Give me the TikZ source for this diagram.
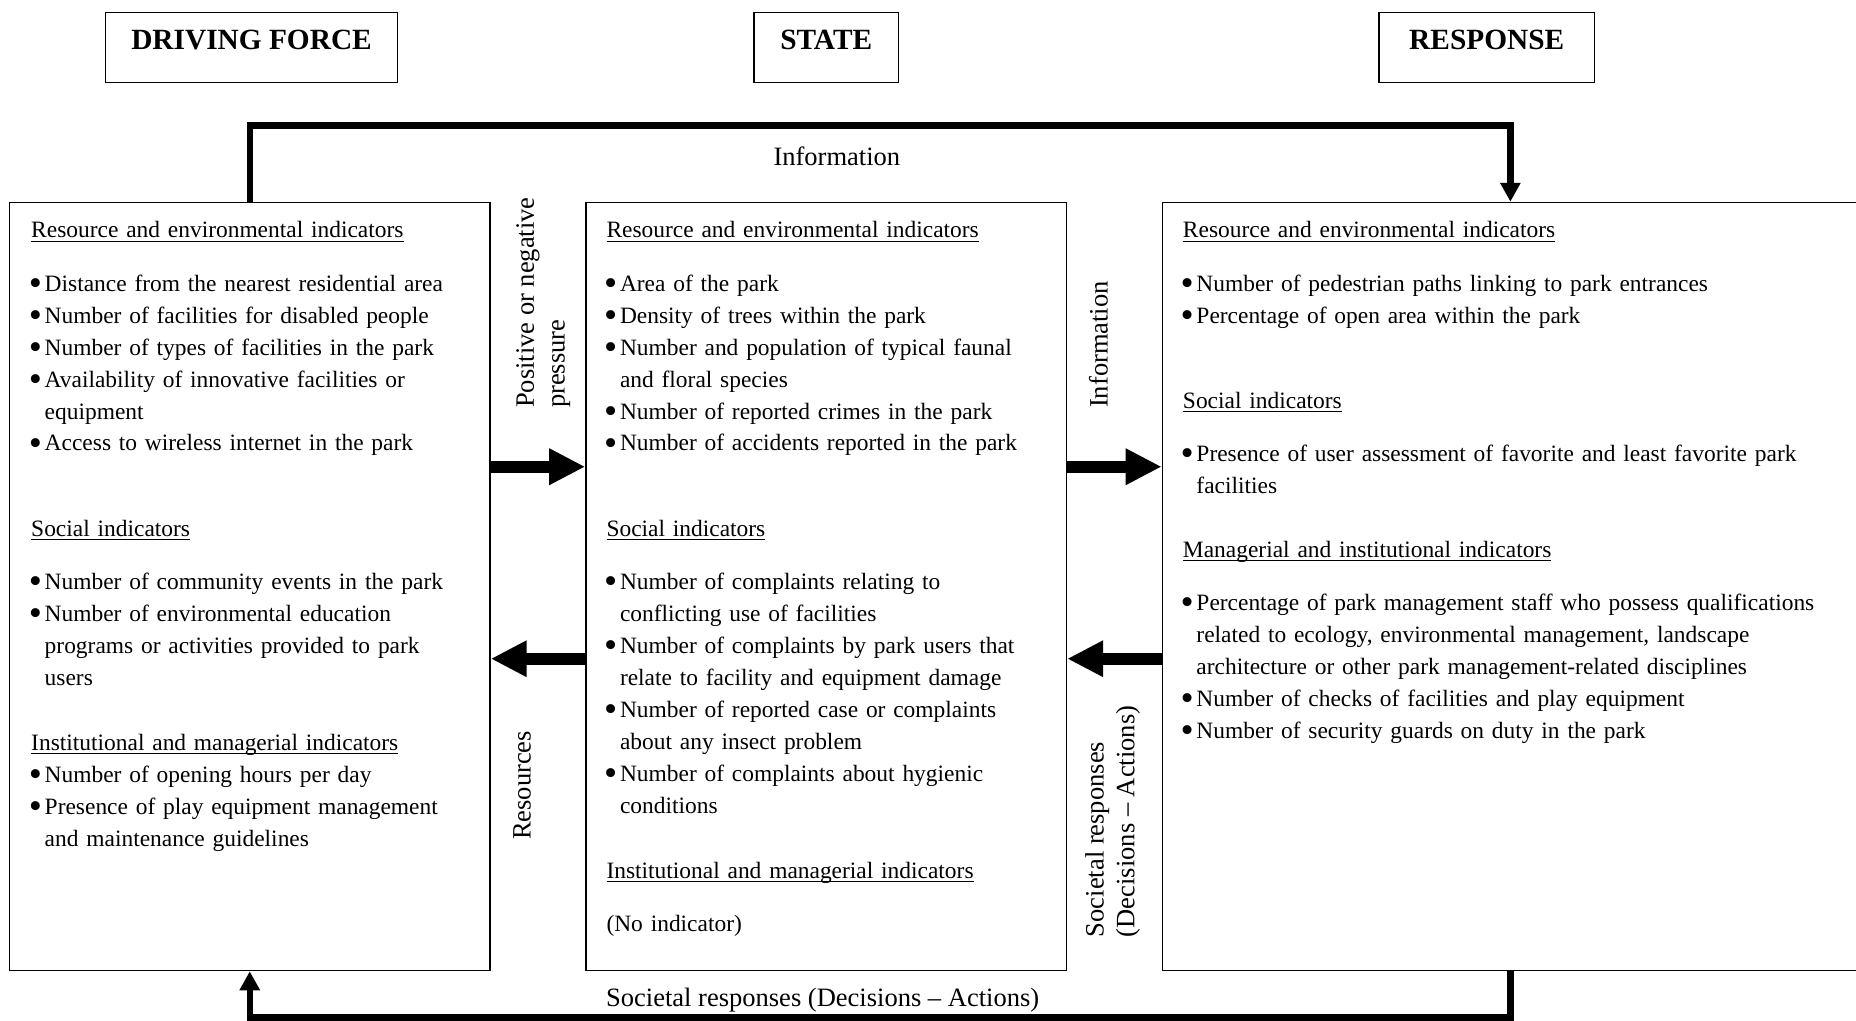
\documentclass[tikz,border=0pt]{standalone}
\usepackage{graphicx}
\usepackage{fontspec}
\setmainfont{Liberation Serif}
\usetikzlibrary{arrows.meta}

\newcommand\bodyfont{\fontsize{9.9pt}{13.5pt}\selectfont}
\newcommand\bul{\makebox[5.7pt][l]{\hspace*{-1pt}\raisebox{-1.7pt}{\scalebox{1.6}{\textbullet}}}}
\newcommand\cont{\hspace*{5.7pt}}
\newcommand\hdline[1]{\setbox0\hbox{#1}\rlap{\rule[-1.6pt]{\wd0}{0.5pt}}\box0}

\begin{document}
\begin{tikzpicture}[x=0.5pt, y=-0.5pt,
    panel/.style={draw, line width=0.6pt, inner sep=0pt, minimum height=324.5pt},
    titlebox/.style={draw, line width=0.6pt, inner sep=0pt, anchor=north,
      font=\bfseries\fontsize{12.4pt}{15pt}\selectfont, text height=15.5pt, text depth=14pt},
    items/.style={anchor=base west, inner sep=0pt, text width=300pt, align=left, font=\bodyfont},
    linklabel/.style={inner sep=0pt, font=\fontsize{11.2pt}{13pt}\selectfont},
    bigarrow/.style={line width=5pt, -{Triangle[length=15.2pt, width=14.4pt]}},
    backline/.style={line width=2.7pt, -{Triangle[length=8pt, width=8.2pt]}}]
  \useasboundingbox (0,0) rectangle (1568,862);

  % headers
  \node[titlebox, minimum width=123.5pt] (dfhead) at (212.5,10) {DRIVING FORCE};
  \node[titlebox, minimum width=61pt] (shead) at (698,10) {STATE};
  \node[titlebox, minimum width=91pt] (rhead) at (1256,10) {RESPONSE};

  % main boxes
  \node[panel, minimum width=203pt] (dfbox) at (211,495.5) {};
  \node[panel, minimum width=203pt] (sbox) at (698,495.5) {};
  \node[panel, minimum width=294pt] (rbox) at (1276,495.5) {};

  % driving force
  \node[items] (dfres) at (26,201) {\hdline{Resource and environmental indicators}\\[9pt]
    \bul Distance from the nearest residential area\\
    \bul Number of facilities for disabled people\\
    \bul Number of types of facilities in the park\\
    \bul Availability of innovative facilities or\\
    \cont equipment\\
    \bul Access to wireless internet in the park};
  \node[items] (dfsoc) at (26,453) {\hdline{Social indicators}\\[9pt]
    \bul Number of community events in the park\\
    \bul Number of environmental education\\
    \cont programs or activities provided to park\\
    \cont users};
  \node[items] (dfinst) at (26,634) {\hdline{Institutional and managerial indicators}\\
    \bul Number of opening hours per day\\
    \bul Presence of play equipment management\\
    \cont and maintenance guidelines};

  % state
  \node[items] (sres) at (512,201) {\hdline{Resource and environmental indicators}\\[9pt]
    \bul Area of the park\\
    \bul Density of trees within the park\\
    \bul Number and population of typical faunal\\
    \cont and floral species\\
    \bul Number of reported crimes in the park\\
    \bul Number of accidents reported in the park};
  \node[items] (ssoc) at (512,453) {\hdline{Social indicators}\\[9pt]
    \bul Number of complaints relating to\\
    \cont conflicting use of facilities\\
    \bul Number of complaints by park users that\\
    \cont relate to facility and equipment damage\\
    \bul Number of reported case or complaints\\
    \cont about any insect problem\\
    \bul Number of complaints about hygienic\\
    \cont conditions};
  \node[items] (sinst) at (512,742) {\hdline{Institutional and managerial indicators}\\[9pt]
    (No indicator)};

  % response
  \node[items] (rres) at (999,201) {\hdline{Resource and environmental indicators}\\[9pt]
    \bul Number of pedestrian paths linking to park entrances\\
    \bul Percentage of open area within the park};
  \node[items] (rsoc) at (999,345) {\hdline{Social indicators}\\[9pt]
    \bul Presence of user assessment of favorite and least favorite park\\
    \cont facilities};
  \node[items] (rman) at (999,471) {\hdline{Managerial and institutional indicators}\\[9pt]
    \bul Percentage of park management staff who possess qualifications\\
    \cont related to ecology, environmental management, landscape\\
    \cont architecture or other park management-related disciplines\\
    \bul Number of checks of facilities and play equipment\\
    \bul Number of security guards on duty in the park};

  % links between boxes
  \coordinate (upper) at (0,394.3);
  \coordinate (lower) at (0,556.5);
  \draw[bigarrow] (dfbox.east |- upper) -- (sbox.west |- upper);
  \draw[bigarrow] (sbox.east |- upper) -- (rbox.west |- upper);
  \draw[bigarrow] (sbox.west |- lower) -- (dfbox.east |- lower);
  \draw[bigarrow] (rbox.west |- lower) -- (sbox.east |- lower);
  \draw[backline] (dfbox.north) -- ++(0,-64.5) -| (rbox.north);
  \draw[backline] (rbox.south) -- ++(0,39) -| (dfbox.south);

  % labels
  \node[linklabel, anchor=base] (infotop) at (707,140) {Information};
  \node[linklabel, anchor=base] (socbottom) at (695,850) {Societal responses (Decisions \textendash{} Actions)};
  \node[linklabel, rotate=90, anchor=west, align=left] (presslab) at (459,345) {Positive or negative\\pressure};
  \node[linklabel, rotate=90, anchor=west] (infolab) at (928,345) {Information};
  \node[linklabel, rotate=90, anchor=west] (reslab) at (441,710) {Resources};
  \node[linklabel, rotate=90, anchor=west, align=left] (soclab) at (940,792) {Societal responses\\(Decisions \textendash{} Actions)};
\end{tikzpicture}
\end{document}
